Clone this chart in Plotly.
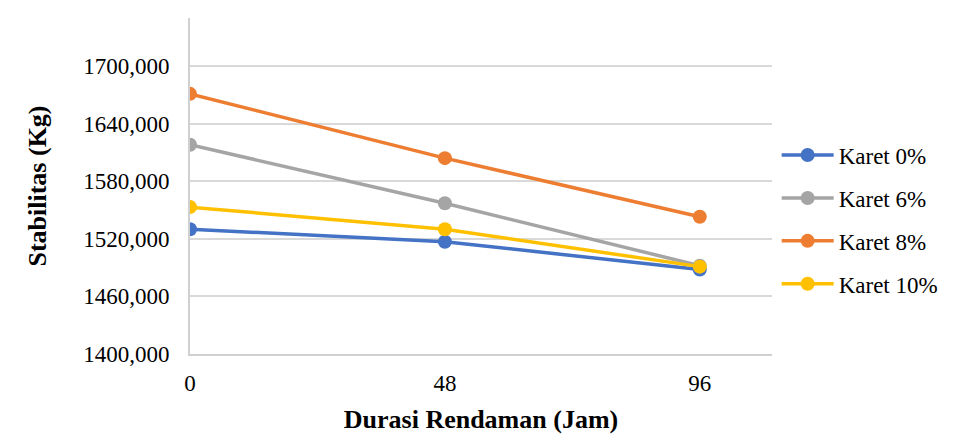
import plotly.graph_objects as go

durasi = [0, 48, 96]
karet_0 = [1530, 1517, 1488]
karet_6 = [1618, 1557, 1492]
karet_8 = [1671, 1604, 1543]
karet_10 = [1553, 1530, 1491]

series = [
    ("Karet 0%", karet_0, "#4472C4"),
    ("Karet 6%", karet_6, "#A5A5A5"),
    ("Karet 8%", karet_8, "#ED7D31"),
    ("Karet 10%", karet_10, "#FFC000"),
]

y_ticks = [1400, 1460, 1520, 1580, 1640, 1700]
SERIF = "Liberation Serif"

fig = go.Figure()
for i, (name, vals, color) in enumerate(series):
    fig.add_trace(go.Scatter(
        x=durasi, y=vals, name=name, mode="lines+markers",
        line=dict(color=color, width=3.5),
        marker=dict(color=color, size=14),
        legendgroup=f"g{i}",
    ))

# page body adds an 8px offset, so margins are trimmed by that amount
fig.update_layout(
    width=954, height=445,
    margin=dict(l=182, r=190, t=10, b=99, autoexpand=False),
    paper_bgcolor="white", plot_bgcolor="white",
    separators=",.",
    font=dict(family=SERIF, size=23, color="black"),
    legend=dict(x=1.008, y=0.40, yanchor="middle", xanchor="left",
                font=dict(family=SERIF, size=23, color="black"),
                tracegroupgap=10, itemwidth=52),
)
fig.update_xaxes(
    range=[0, 109.6], tickvals=durasi, showgrid=False, zeroline=False,
    showline=True, linecolor="#D0D0D0", linewidth=2, ticks="",
    ticklabelstandoff=7, tickfont=dict(family=SERIF, size=23, color="black"),
    title=dict(text="<b>Durasi Rendaman (Jam)</b>",
               font=dict(family=SERIF, size=26, color="black"), standoff=15),
)
fig.update_yaxes(
    range=[1400, 1750], tickvals=y_ticks, tickformat=".3f",
    showgrid=True, gridcolor="#D9D9D9", gridwidth=1.5, zeroline=False,
    showline=True, linecolor="#D0D0D0", linewidth=2, ticks="",
    ticklabelstandoff=14, tickfont=dict(family=SERIF, size=23, color="black"),
    title=dict(text="<b>Stabilitas (Kg)</b>",
               font=dict(family=SERIF, size=26, color="black"), standoff=29),
)

fig.write_html("out.html")
